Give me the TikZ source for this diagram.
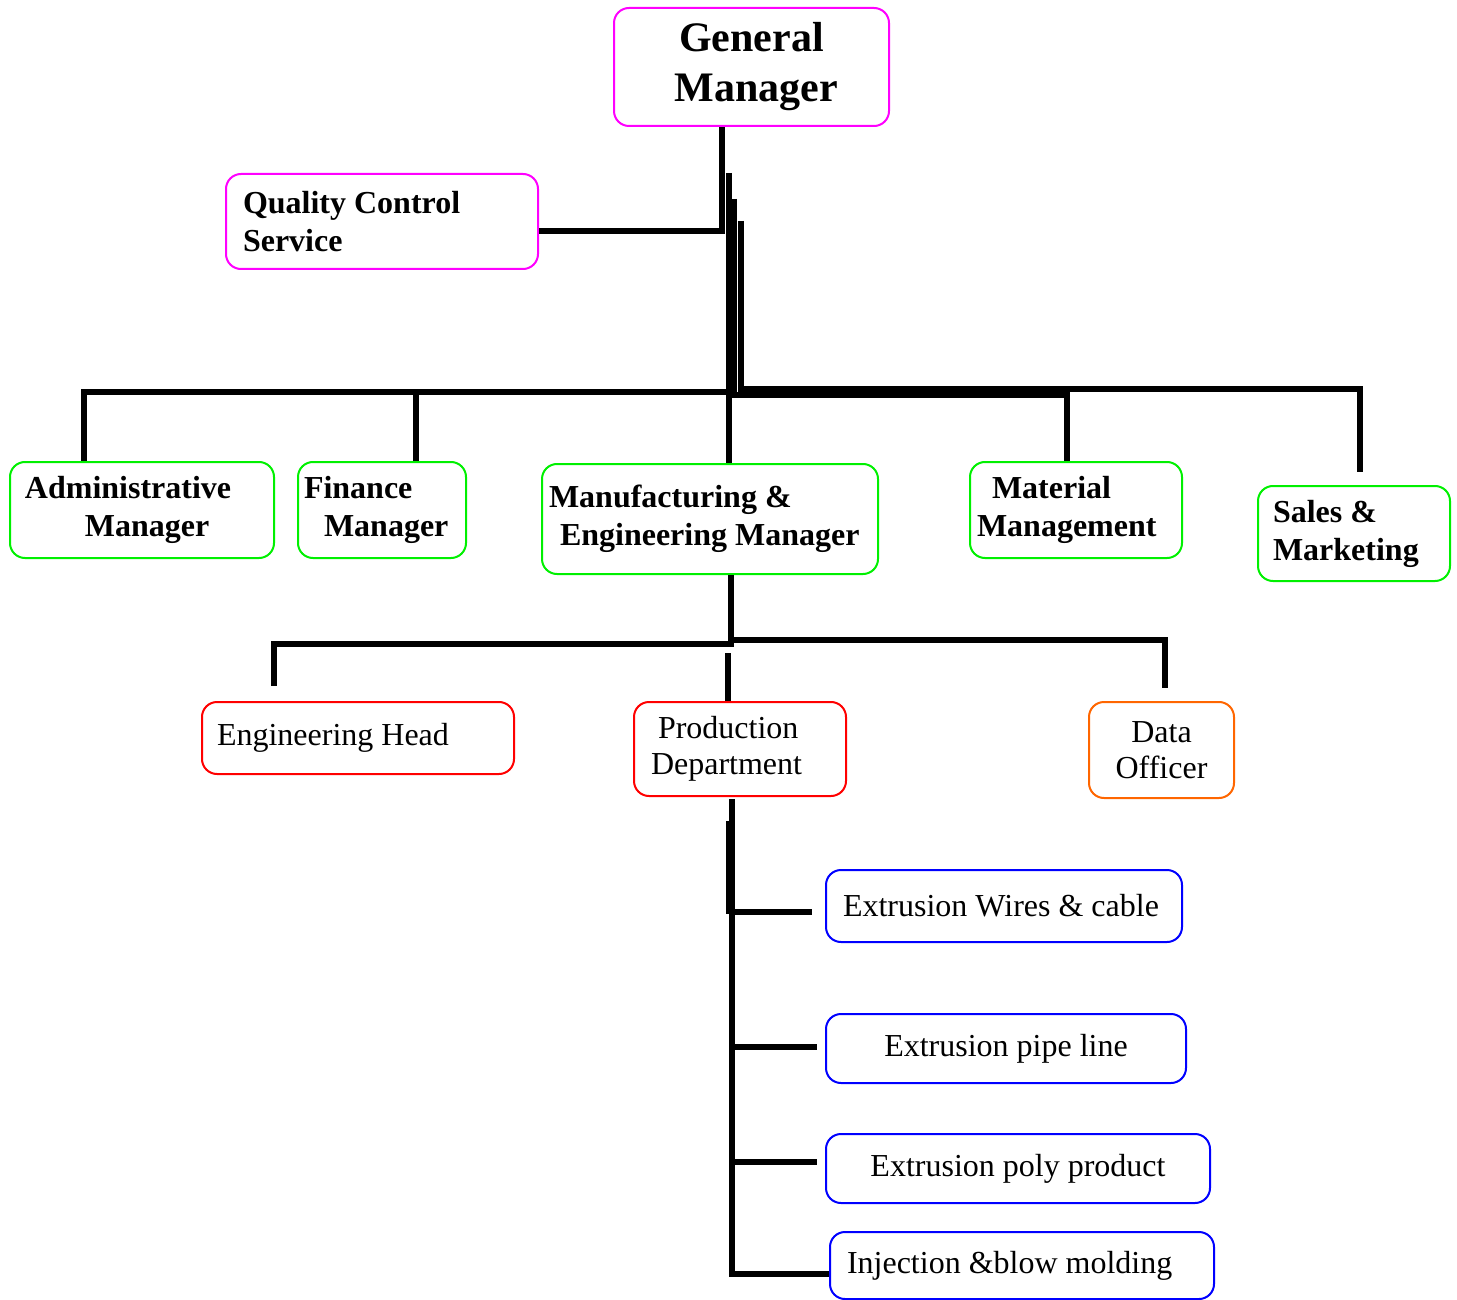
\documentclass[tikz,border=0pt]{standalone}
\usepackage{fontspec}
\setmainfont{Liberation Serif}
\usetikzlibrary{calc}
\definecolor{gmmag}{HTML}{FF00FF}
\definecolor{mgrgreen}{HTML}{00F000}
\definecolor{deptred}{HTML}{FF0000}
\definecolor{dataorange}{HTML}{FF6600}
\definecolor{unitblue}{HTML}{0000FF}
\newcommand\gmfont{\fontsize{21}{25}\selectfont\bfseries}
\newcommand\bfnt{\fontsize{16}{19}\selectfont\bfseries}
\newcommand\rfnt{\fontsize{16}{18}\selectfont}
\begin{document}
\begin{tikzpicture}[x=0.5pt,y=-0.5pt,
  box/.style={draw, rounded corners=7.5pt, line width=1pt, anchor=north west, inner ysep=0pt,
    execute at begin node={\spaceskip=0pt\xspaceskip=0pt\hyphenpenalty=10000\relax}},
  conn/.style={line width=3pt, line join=miter}]
\useasboundingbox (0,0) rectangle (1457,1300);

% level 0
\node[box, draw=gmmag, font=\gmfont, align=flush center, text width=127.5pt, inner xsep=5pt, minimum height=59pt] (GM) at (613,7) {General\\\hspace*{5pt}Manager};
\node[box, draw=gmmag, font=\bfnt, align=left, text width=139pt, inner xsep=8.5pt, minimum height=47.5pt] (QCS) at (225,173) {Quality Control\\Service};

% level 1
\node[box, draw=mgrgreen, font=\bfnt, align=left, text width=117pt, inner xsep=7.5pt, minimum height=48pt] (Adm) at (9,461) {Administrative\\\hspace*{30pt}Manager};
\node[box, draw=mgrgreen, font=\bfnt, align=left, text width=78pt, inner xsep=3pt, minimum height=48pt] (Fin) at (297,461) {Finance\\\hspace*{10pt}Manager};
\node[box, draw=mgrgreen, font=\bfnt, align=left, text width=161pt, inner xsep=3.5pt, minimum height=55pt] (ME) at (541,463) {Manufacturing \&\\\hspace*{5.5pt}Engineering Manager};
\node[box, draw=mgrgreen, font=\bfnt, align=left, text width=99pt, inner xsep=3.5pt, minimum height=48pt] (Mat) at (969,461) {\hspace*{7.5pt}Material\\Management};
\node[box, draw=mgrgreen, font=\bfnt, align=left, text width=81pt, inner xsep=7.5pt, minimum height=47.5pt] (Sal) at (1257,485) {Sales \&\\Marketing};

% level 2
\node[box, draw=deptred, font=\rfnt, align=left, text width=141pt, inner xsep=7.5pt, minimum height=36pt] (Eng) at (201,701) {Engineering Head\\[-3pt]};
\node[box, draw=deptred, font=\rfnt, align=left, text width=89pt, inner xsep=8.5pt, minimum height=47pt] (Prod) at (633,701) {\hspace*{3.5pt}Production\\Department};
\node[box, draw=dataorange, font=\rfnt, align=flush center, text width=62.5pt, inner xsep=5pt, minimum height=48pt] (Dat) at (1088,701) {Data\\Officer};

% level 3
\node[box, draw=unitblue, font=\rfnt, align=left, text width=161pt, inner xsep=8.5pt, minimum height=36pt] (ExW) at (825,869) {Extrusion Wires \& cable};
\node[box, draw=unitblue, font=\rfnt, align=flush center, text width=170pt, inner xsep=5pt, minimum height=34.5pt] (ExP) at (825,1013) {Extrusion pipe line};
\node[box, draw=unitblue, font=\rfnt, align=flush center, text width=182pt, inner xsep=5pt, minimum height=34.5pt] (ExY) at (825,1133) {Extrusion poly product};
\node[box, draw=unitblue, font=\rfnt, align=left, text width=175pt, inner xsep=8.5pt, minimum height=33.5pt] (Inj) at (829,1231) {Injection \&blow molding};

% connectors level 0
\coordinate (jq) at (722,231);
\draw[conn] (GM.south -| jq) -- (jq) -- (QCS.east |- jq);

% trunk to level 1
\coordinate (t1) at (729,173);
\coordinate (t2) at (734,199);
\coordinate (t3) at (741,221);
\coordinate (hL) at (84,392);
\coordinate (hF) at (416,392);
\coordinate (hM) at (1067,395);
\coordinate (hS) at (1360,389);
\coordinate (sEnd) at (1360,472);
\draw[conn] (t1) -- (t1 |- ME.north);
\draw[conn] (Adm.north -| hL) -- (hL) -- (t1 |- hL);
\draw[conn] (Fin.north -| hF) -- (hF);
\draw[conn] (t2) -- (t2 |- hM) -- (hM) -- (Mat.north -| hM);
\draw[conn] (t3) -- (t3 |- hS) -- (hS) -- (sEnd);

% level 2 connectors
\coordinate (m1) at (731,644);
\coordinate (eL) at (274,644);
\coordinate (eEnd) at (274,686);
\coordinate (dR) at (1165,640);
\coordinate (dEnd) at (1165,688);
\coordinate (p0) at (728,653);
\draw[conn] (ME.south -| m1) -- (m1) -- (eL) -- (eEnd);
\draw[conn] (m1 |- dR) -- (dR) -- (dEnd);
\draw[conn] (p0) -- (Prod.north -| p0);

% level 3 connectors
\coordinate (q0) at (732,799);
\coordinate (q1) at (729,821);
\coordinate (q2) at (729,914);
\coordinate (w1) at (812,912);
\coordinate (w2) at (817,1047);
\coordinate (w3) at (817,1162);
\coordinate (qb) at (732,1274);
\draw[conn] (q0) -- (qb) -- (Inj.west |- qb);
\draw[conn] (q1) -- (q2);
\draw[conn] (q0 |- w1) -- (w1);
\draw[conn] (q0 |- w2) -- (w2);
\draw[conn] (q0 |- w3) -- (w3);
\end{tikzpicture}
\end{document}
